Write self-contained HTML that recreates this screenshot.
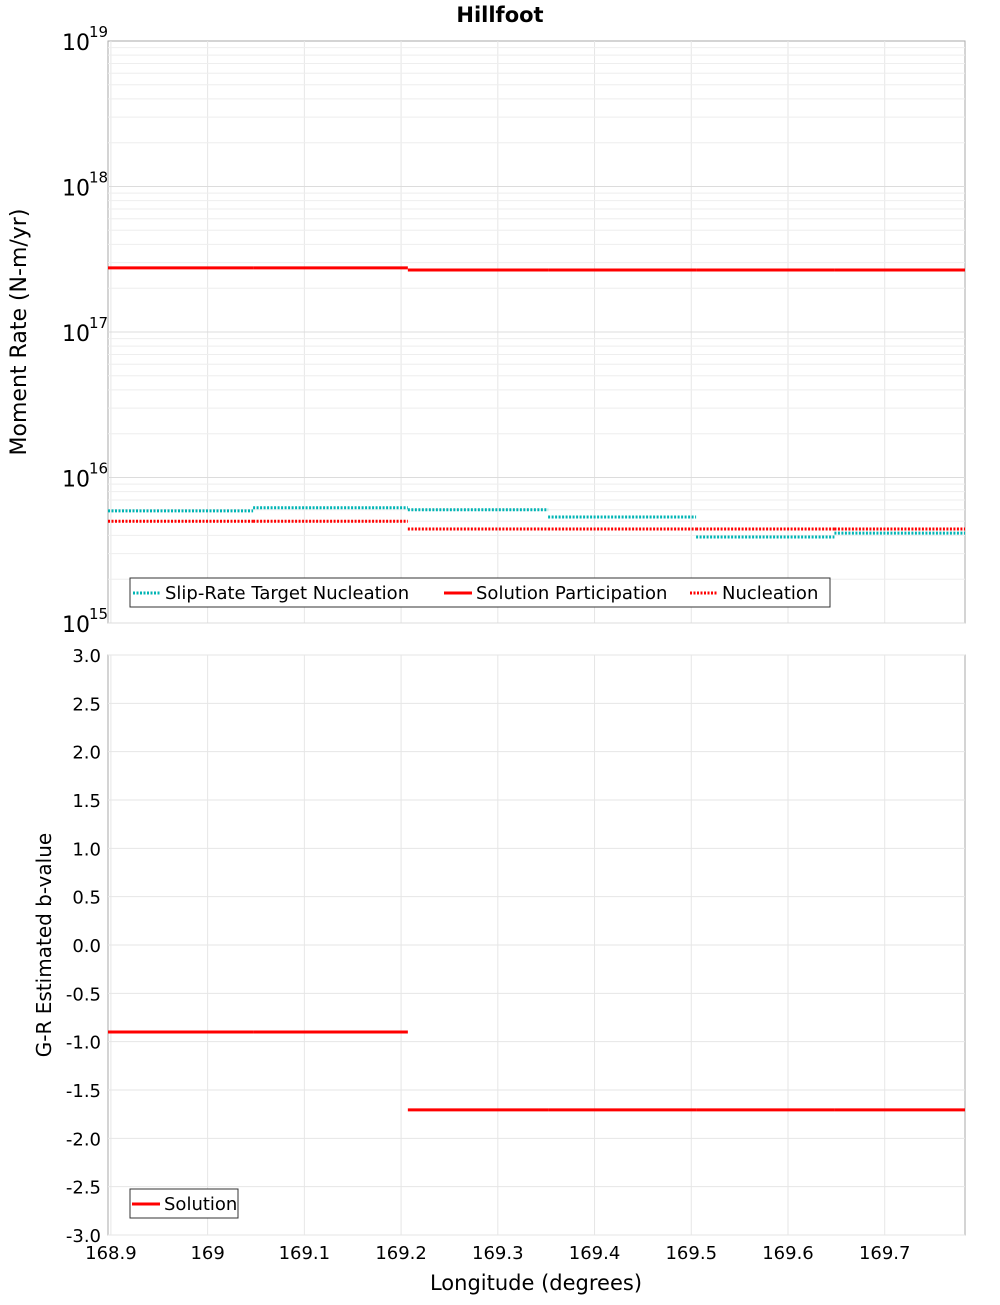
<!DOCTYPE html>
<html><head><meta charset="utf-8"><style>
body{margin:0;background:#fff;font-family:"Liberation Sans","DejaVu Sans",sans-serif}
</style></head><body>
<svg id="chart" width="1000" height="1300" xmlns="http://www.w3.org/2000/svg" font-family="DejaVu Sans, Liberation Sans, sans-serif">
<text x="500" y="22" text-anchor="middle" font-size="21" font-weight="bold">Hillfoot</text>
<g id="gtop"></g><g id="gbot"></g>
<text transform="translate(26,332) rotate(-90)" text-anchor="middle" font-size="22">Moment Rate (N-m/yr)</text>
<text transform="translate(51,945) rotate(-90)" text-anchor="middle" font-size="20">G-R Estimated b-value</text>
<text x="536" y="1290" text-anchor="middle" font-size="21">Longitude (degrees)</text>
</svg>
<script>
const bounds=[168.897,169.047,169.207,169.352,169.505,169.648,169.783];
const slipTarget=[5.9e15,6.2e15,6.0e15,5.35e15,3.9e15,4.15e15];
const solutionPart=[2.76e17,2.76e17,2.67e17,2.67e17,2.67e17,2.67e17];
const nucleation=[5.0e15,5.0e15,4.43e15,4.43e15,4.43e15,4.43e15];
const bValue=[-0.9,-0.9,-1.705,-1.705,-1.705,-1.705];
const xTicks=[168.9,169,169.1,169.2,169.3,169.4,169.5,169.6,169.7];
const xTickLabels=["168.9","169","169.1","169.2","169.3","169.4","169.5","169.6","169.7"];
const decades=[15,16,17,18,19];
const bTicks=[3,2.5,2,1.5,1,0.5,0,-0.5,-1,-1.5,-2,-2.5,-3];

const L=108,R=965,T1=41,B1=623,T2=655,B2=1235;
const X=v=>L+(v-bounds[0])/(bounds[6]-bounds[0])*(R-L);
const Y1=v=>B1-(Math.log10(v)-15)/4*(B1-T1);
const Y2=v=>B2-(v+3)/6*(B2-T2);
const NS="http://www.w3.org/2000/svg";
function mk(p,t,a){const e=document.createElementNS(NS,t);for(const k in a)e.setAttribute(k,a[k]);p.appendChild(e);return e;}
const gTop=document.getElementById('gtop'),gBot=document.getElementById('gbot');

for(const [g,T,B] of [[gTop,T1,B1],[gBot,T2,B2]]){
  const r=mk(g,'rect',{x:L,y:T,width:R-L,height:B-T,fill:'#fff',stroke:'#aaa'});
  
  
  for(const t of xTicks){mk(g,'line',{x1:X(t),x2:X(t),y1:T,y2:B,stroke:'#e6e6e6'});}
}
for(let d=15;d<19;d++)for(let m=1;m<10;m++){const y=Y1(m*Math.pow(10,d));mk(gTop,'line',{x1:L,x2:R,y1:y,y2:y,stroke:m==1?'#dcdcdc':'#eeeeee'});}
for(const d of decades){
  const t=mk(gTop,'text',{x:90,y:Y1(Math.pow(10,d))+9,'text-anchor':'end','font-size':22});
  
  
  t.textContent='10';
  const s=mk(gTop,'text',{x:89,y:Y1(Math.pow(10,d))-4,'font-size':15});
  s.textContent=String(d);
}
for(const b of bTicks){
  mk(gBot,'line',{x1:L,x2:R,y1:Y2(b),y2:Y2(b),stroke:'#e6e6e6'});
  const t=mk(gBot,'text',{x:101,y:Y2(b)+7,'text-anchor':'end','font-size':18});
  
  
  t.textContent=b.toFixed(1);
}
xTicks.forEach((t,i)=>{
  const e=mk(gBot,'text',{x:X(t),y:1259,'text-anchor':'middle','font-size':18});
  
  
  e.textContent=xTickLabels[i];
});
function steps(g,vals,Y,color,dash,name){
  vals.forEach((v,i)=>{
    const l=mk(g,'line',{x1:X(bounds[i]),x2:X(bounds[i+1]),y1:Y(v),y2:Y(v),stroke:color,'stroke-width':3});
    if(dash)l.setAttribute('stroke-dasharray','2,1.5');
    
    
  });
}
steps(gTop,solutionPart,Y1,'#f00',false,'solution-participation-step');
steps(gTop,slipTarget,Y1,'#00b4b4',true,'slip-rate-target-step');
steps(gTop,nucleation,Y1,'#f00',true,'nucleation-step');
steps(gBot,bValue,Y2,'#f00',false,'b-value-step');

function legend(g,x,y,w,entries,name){
  const lg=mk(g,'g',{});
  
  
  mk(lg,'rect',{x:x,y:y,width:w,height:29,fill:'#fff',stroke:'#333'});
  for(const [ex,c,d,txt] of entries){
    const l=mk(lg,'line',{x1:ex,x2:ex+28,y1:y+15,y2:y+15,stroke:c,'stroke-width':3});
    if(d)l.setAttribute('stroke-dasharray','2,1.5');
    const t=mk(lg,'text',{x:ex+32,y:y+21,'font-size':18});
    
    
    t.textContent=txt;
  }
}
legend(gTop,130,578,700,[[133,'#00b4b4',true,'Slip-Rate Target Nucleation'],[444,'#f00',false,'Solution Participation'],[690,'#f00',true,'Nucleation']],'legend-top');
legend(gBot,130,1189,108,[[132,'#f00',false,'Solution']],'legend-bottom');
</script>
</body></html>
